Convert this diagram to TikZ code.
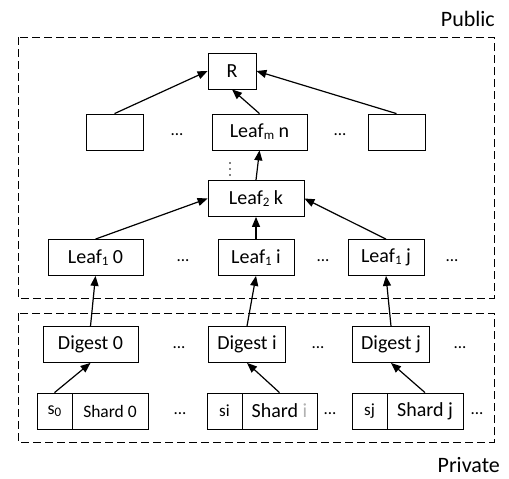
\documentclass[tikz,border=0pt]{standalone}
\usepackage{fontspec}
\setmainfont{Carlito}
\usetikzlibrary{arrows.meta}
% small lowered index used in the node labels
\newcommand{\lowidx}[1]{\raisebox{-0.2ex}{\fontsize{13}{13}\selectfont #1}}
\begin{document}
\begin{tikzpicture}[x=1pt,y=-1pt,
  box/.style={draw, line width=0.8pt, inner sep=0pt, minimum height=36pt,
              font=\fontsize{20}{24}\selectfont},
  region/.style={draw, line width=0.8pt, dash pattern=on 8pt off 4pt},
  link/.style={line width=1.2pt, -{Triangle[length=10pt,width=8pt]}},
  gap/.style={font=\fontsize{17}{20}\selectfont, inner sep=0pt},
  tag/.style={font=\fontsize{22}{26}\selectfont, inner sep=0pt}]
\useasboundingbox (0,0) rectangle (509,479);

% public and private regions
\draw[region] (18,37) rectangle (494,298);
\draw[region] (18,313) rectangle (494,442);
\node[tag, anchor=base east] (pub) at (495,26) {Public};
\node[tag, anchor=base east] (priv) at (500,472) {Private};

% upper tree
\node[box, minimum width=48pt] (R) at (232,71) {R};
\node[box, minimum width=57pt] (lft) at (114.5,132) {};
\node[box, minimum width=95pt] (leafm) at (259.5,132) {Leaf\lowidx{m} n};
\node[box, minimum width=57pt] (rgt) at (396.5,132) {};
\node[gap] (d1) at (177,135) {...};
\node[gap] (d2) at (340,135) {...};

\node[box, minimum width=96pt] (leaf2) at (256,198.5) {Leaf\lowidx{2} k};
\foreach \yy/\nm in {163/v1,169/v2,175/v3}
  \fill (230,\yy) circle (0.9pt) coordinate (\nm);

\node[box, minimum width=95pt] (l0) at (95.5,257.5) {Leaf\lowidx{1} 0};
\node[box, minimum width=76pt] (li) at (256,257.5) {Leaf\lowidx{1} i};
\node[box, minimum width=76pt] (lj) at (386,257.5) {Leaf\lowidx{1} j};
\node[gap] (d3) at (183,261) {...};
\node[gap] (d4) at (323,261) {...};
\node[gap] (d5) at (452,261) {...};

% private part
\node[box, minimum width=95pt] (g0) at (90.5,344.5) {Digest 0};
\node[box, minimum width=77pt] (gi) at (247,344.5) {Digest i};
\node[box, minimum width=77pt] (gj) at (391,344.5) {Digest j};
\node[gap] (d6) at (179,348) {...};
\node[gap] (d7) at (318,348) {...};
\node[gap] (d8) at (460,348) {...};

\node[box, minimum width=35pt, font=\fontsize{18}{22}\selectfont] (s0) at (54.5,411) {s\lowidx{0}};
\node[box, minimum width=76pt, font=\fontsize{17.5}{21}\selectfont] (h0) at (110,411) {Shard 0};
\node[box, minimum width=35pt, font=\fontsize{17}{21}\selectfont] (si) at (224.5,411) {si};
\node[box, minimum width=75pt] (hi) at (279.5,411) {Shard \textcolor{gray!60}{i}};
\node[box, minimum width=35pt, font=\fontsize{17}{21}\selectfont] (sj) at (369.5,411) {sj};
\node[box, minimum width=76pt] (hj) at (425,411) {Shard j};
\node[gap] (d9) at (180,414) {...};
\node[gap] (d10) at (330,414) {...};
\node[gap] (d11) at (477,414) {...};

% hash links
\draw[link] (lft.north) -- (R.west);
\draw[link] (leafm.north) -- (R.south);
\draw[link] (rgt.north) -- (R.east);
\draw[link] (leaf2.north) -- (leafm.south);
\draw[link] (l0.north) -- (leaf2.west);
\draw[link] (li.north) -- (leaf2.south);
\draw[link] (lj.north) -- (leaf2.east);
\draw[link] (g0.north) -- (l0.south);
\draw[link] (gi.north) -- (li.south);
\draw[link] (gj.north) -- (lj.south);
\draw[link] (s0.north) -- (g0.south);
\draw[link] (hi.north) -- (gi.south);
\draw[link] (hj.north) -- (gj.south);
\end{tikzpicture}
\end{document}
